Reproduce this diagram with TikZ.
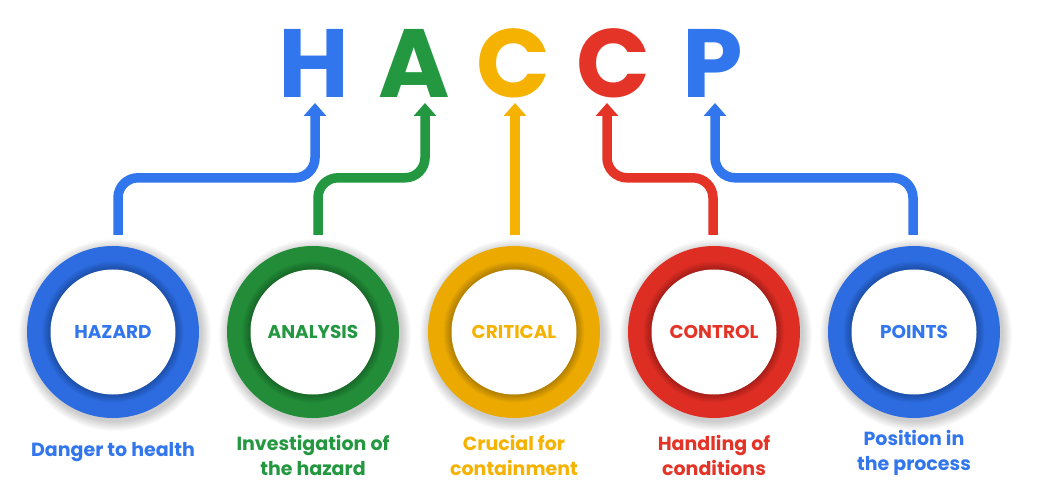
\documentclass[tikz,border=0pt]{standalone}
\usepackage{fontspec}
\setmainfont{Poppins}
\usetikzlibrary{arrows.meta,calc}
\definecolor{hblue}{RGB}{50,118,238}
\definecolor{hgreen}{RGB}{36,152,64}
\definecolor{hyellow}{RGB}{245,178,0}
\definecolor{hred}{RGB}{228,52,40}
\definecolor{hblueR}{RGB}{44,108,224}
\definecolor{hgreenR}{RGB}{34,140,56}
\definecolor{hyellowR}{RGB}{236,170,0}
\definecolor{hredR}{RGB}{222,46,36}
\tikzset{
  conn/.style={line width=9.5pt, draw=#1, rounded corners=20pt, -{Triangle[width=22pt,length=13pt]}},
  bigletter/.style={font=\fontsize{97}{97}\selectfont\bfseries, text=#1, anchor=base, inner sep=0pt},
  ringnode/.style={circle, fill=#1, minimum size=172pt, inner sep=0pt},
  core/.style={circle, fill=white, minimum size=125pt, inner sep=0pt, text=#1, font=\fontsize{18.5}{18.5}\selectfont\bfseries},
  desc/.style={text=#1, align=center, font=\fontsize{19}{25}\selectfont\bfseries, inner sep=0pt}
}
\newcommand\haccpitem[6]{%
  \foreach \k in {1,...,10}{\fill[black,opacity=0.018] (#2+2,#3+3) circle[radius={86pt+\k pt}];}
  \node[ringnode=#4] (#1) at (#2,#3) {};
  \foreach \k in {1,...,8}{\fill[black,opacity=0.03] (#1.center) circle[radius={62.5pt+\k pt}];}
  \node[core=#5] (#1c) at (#1) {#6};
}
\begin{document}
\begin{tikzpicture}[x=1pt,y=-1pt]
\useasboundingbox (0,0) rectangle (1037,489);
\fill[white] (0,0) rectangle (1037,489);
% big letters
\node[bigletter=hblue]   (L1) at (314,98) {H};
\node[bigletter=hgreen]  (L2) at (414,98) {A};
\node[bigletter=hyellow] (L3) at (513,98) {C};
\node[bigletter=hred]    (L4) at (613,98) {C};
\node[bigletter=hblue]   (L5) at (713,98) {P};
% circles
\haccpitem{h1}{113}{332}{hblueR}{hblue}{HAZARD}
\haccpitem{h2}{313}{332}{hgreenR}{hgreen}{ANALYSIS}
\haccpitem{h3}{514}{332}{hyellowR}{hyellow}{CRITICAL}
\haccpitem{h4}{714}{332}{hredR}{hred}{CONTROL}
\haccpitem{h5}{914}{332}{hblueR}{hblue}{POINTS}
% connectors
\draw[conn=hblue]   ($(h1.north)+(5,-11)$) -- ++(0,-57) -| ($(L1.base)+(1,5)$);
\draw[conn=hgreen]  ($(h2.north)+(5,-11)$) -- ++(0,-57) -| ($(L2.base)+(11,5)$);
\draw[conn=hyellow] ($(h3.north)+(1,-11)$) -- ($(h3.north |- L3.base)+(1,5)$);
\draw[conn=hred]    ($(h4.north)+(-1,-11)$) -- ++(0,-57) -| ($(L4.base)+(-6,5)$);
\draw[conn=hblue]   ($(h5.north)+(-1,-11)$) -- ++(0,-57) -| ($(L5.base)+(2,5)$);
% descriptions
\node[desc=hblue]   (d1) at (113,452) {Danger to health};
\node[desc=hgreen]  (d2) at (313,455) {Investigation of\\the hazard};
\node[desc=hyellow] (d3) at (514,455) {Crucial for\\containment};
\node[desc=hred]    (d4) at (714,455) {Handling of\\conditions};
\node[desc=hblue]   (d5) at (914,453) {Position in\\the process};
\end{tikzpicture}
\end{document}
